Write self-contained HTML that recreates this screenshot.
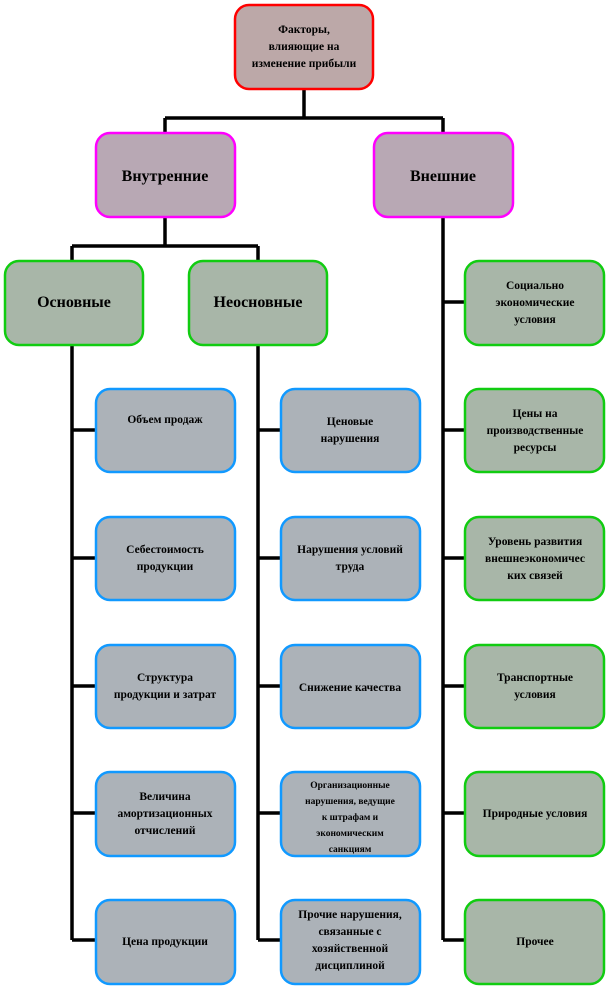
<!DOCTYPE html>
<html><head><meta charset="utf-8"><style>
body{margin:0;background:#fff;width:607px;height:988px;overflow:hidden}
text{font-family:"Liberation Serif",serif;font-weight:bold;fill:#000;text-anchor:middle}
.s{font-size:11.5px}.b{font-size:16px}
</style></head><body>
<svg width="607" height="988" viewBox="0 0 607 988" xmlns="http://www.w3.org/2000/svg">
<g stroke="#000" stroke-width="3.5" fill="none">
<path d="M304 89V118M165 118H443M165 118V132M443 118V132"/>
<path d="M165 217V246M72 246H258M72 246V260M258 246V260"/>
<path d="M72 345V940M72 430H96M72 558H96M72 686H96M72 813H96M72 940H96"/>
<path d="M258 345V940M258 430H281M258 558H281M258 686H281M258 813H281M258 940H281"/>
<path d="M443 217V940M443 302H465M443 430H465M443 558H465M443 686H465M443 813H465M443 940H465"/>
</g>
<g stroke-width="2.5">
<rect x="235" y="5" width="138" height="84" rx="14" fill="#bca8a8" stroke="#f00"/>
<rect x="96" y="133" width="139" height="84" rx="14" fill="#b8a8b4" stroke="#f0f"/>
<rect x="374" y="133" width="139" height="84" rx="14" fill="#b8a8b4" stroke="#f0f"/>
<g fill="#a8b6a8" stroke="#1c1">
<rect x="5" y="261" width="138" height="84" rx="14"/>
<rect x="189" y="261" width="138" height="84" rx="14"/>
<rect x="465" y="261" width="139" height="84" rx="14"/>
<rect x="465" y="389" width="139" height="83" rx="14"/>
<rect x="465" y="517" width="139" height="83" rx="14"/>
<rect x="465" y="645" width="139" height="83" rx="14"/>
<rect x="465" y="772" width="139" height="84" rx="14"/>
<rect x="465" y="900" width="139" height="84" rx="14"/>
</g>
<g fill="#acb2b8" stroke="#19f">
<rect x="96" y="389" width="139" height="83" rx="14"/>
<rect x="96" y="517" width="139" height="83" rx="14"/>
<rect x="96" y="645" width="139" height="83" rx="14"/>
<rect x="96" y="772" width="139" height="84" rx="14"/>
<rect x="96" y="900" width="139" height="84" rx="14"/>
<rect x="281" y="389" width="139" height="83" rx="14"/>
<rect x="281" y="517" width="139" height="83" rx="14"/>
<rect x="281" y="645" width="139" height="83" rx="14"/>
<rect x="281" y="772" width="139" height="84" rx="14"/>
<rect x="281" y="900" width="139" height="84" rx="14"/>
</g>
</g>
<text class="s" x="304" y="33">Факторы,</text>
<text class="s" x="304" y="50">влияющие на</text>
<text class="s" x="304" y="67">изменение прибыли</text>
<text class="b" x="165" y="181">Внутренние</text>
<text class="b" x="443" y="181">Внешние</text>
<text class="b" x="74" y="307">Основные</text>
<text class="b" x="258" y="307">Неосновные</text>
<text class="s" x="165" y="423">Объем продаж</text>
<text class="s" x="165" y="553">Себестоимость</text>
<text class="s" x="165" y="570">продукции</text>
<text class="s" x="165" y="681">Структура</text>
<text class="s" x="165" y="698">продукции и затрат</text>
<text class="s" x="165" y="800">Величина</text>
<text class="s" x="165" y="817">амортизационных</text>
<text class="s" x="165" y="834">отчислений</text>
<text class="s" x="165" y="945">Цена продукции</text>
<text class="s" x="350" y="425">Ценовые</text>
<text class="s" x="350" y="442">нарушения</text>
<text class="s" x="350" y="553">Нарушения условий</text>
<text class="s" x="350" y="570">труда</text>
<text class="s" x="350" y="691">Снижение качества</text>
<text class="s" x="350" y="788" style="font-size:9.5px">Организационные</text>
<text class="s" x="350" y="804" style="font-size:9.5px">нарушения, ведущие</text>
<text class="s" x="350" y="820" style="font-size:9.5px">к штрафам и</text>
<text class="s" x="350" y="836" style="font-size:9.5px">экономическим</text>
<text class="s" x="350" y="852" style="font-size:9.5px">санкциям</text>
<text class="s" x="350" y="918">Прочие нарушения,</text>
<text class="s" x="350" y="935">связанные с</text>
<text class="s" x="350" y="952">хозяйственной</text>
<text class="s" x="350" y="969">дисциплиной</text>
<text class="s" x="535" y="289">Социально</text>
<text class="s" x="535" y="306">экономические</text>
<text class="s" x="535" y="323">условия</text>
<text class="s" x="535" y="417">Цены на</text>
<text class="s" x="535" y="434">производственные</text>
<text class="s" x="535" y="451">ресурсы</text>
<text class="s" x="535" y="545">Уровень развития</text>
<text class="s" x="535" y="562">внешнеэкономичес</text>
<text class="s" x="535" y="579">ких связей</text>
<text class="s" x="535" y="681">Транспортные</text>
<text class="s" x="535" y="698">условия</text>
<text class="s" x="535" y="817">Природные условия</text>
<text class="s" x="535" y="945">Прочее</text>
</svg>
</body></html>
